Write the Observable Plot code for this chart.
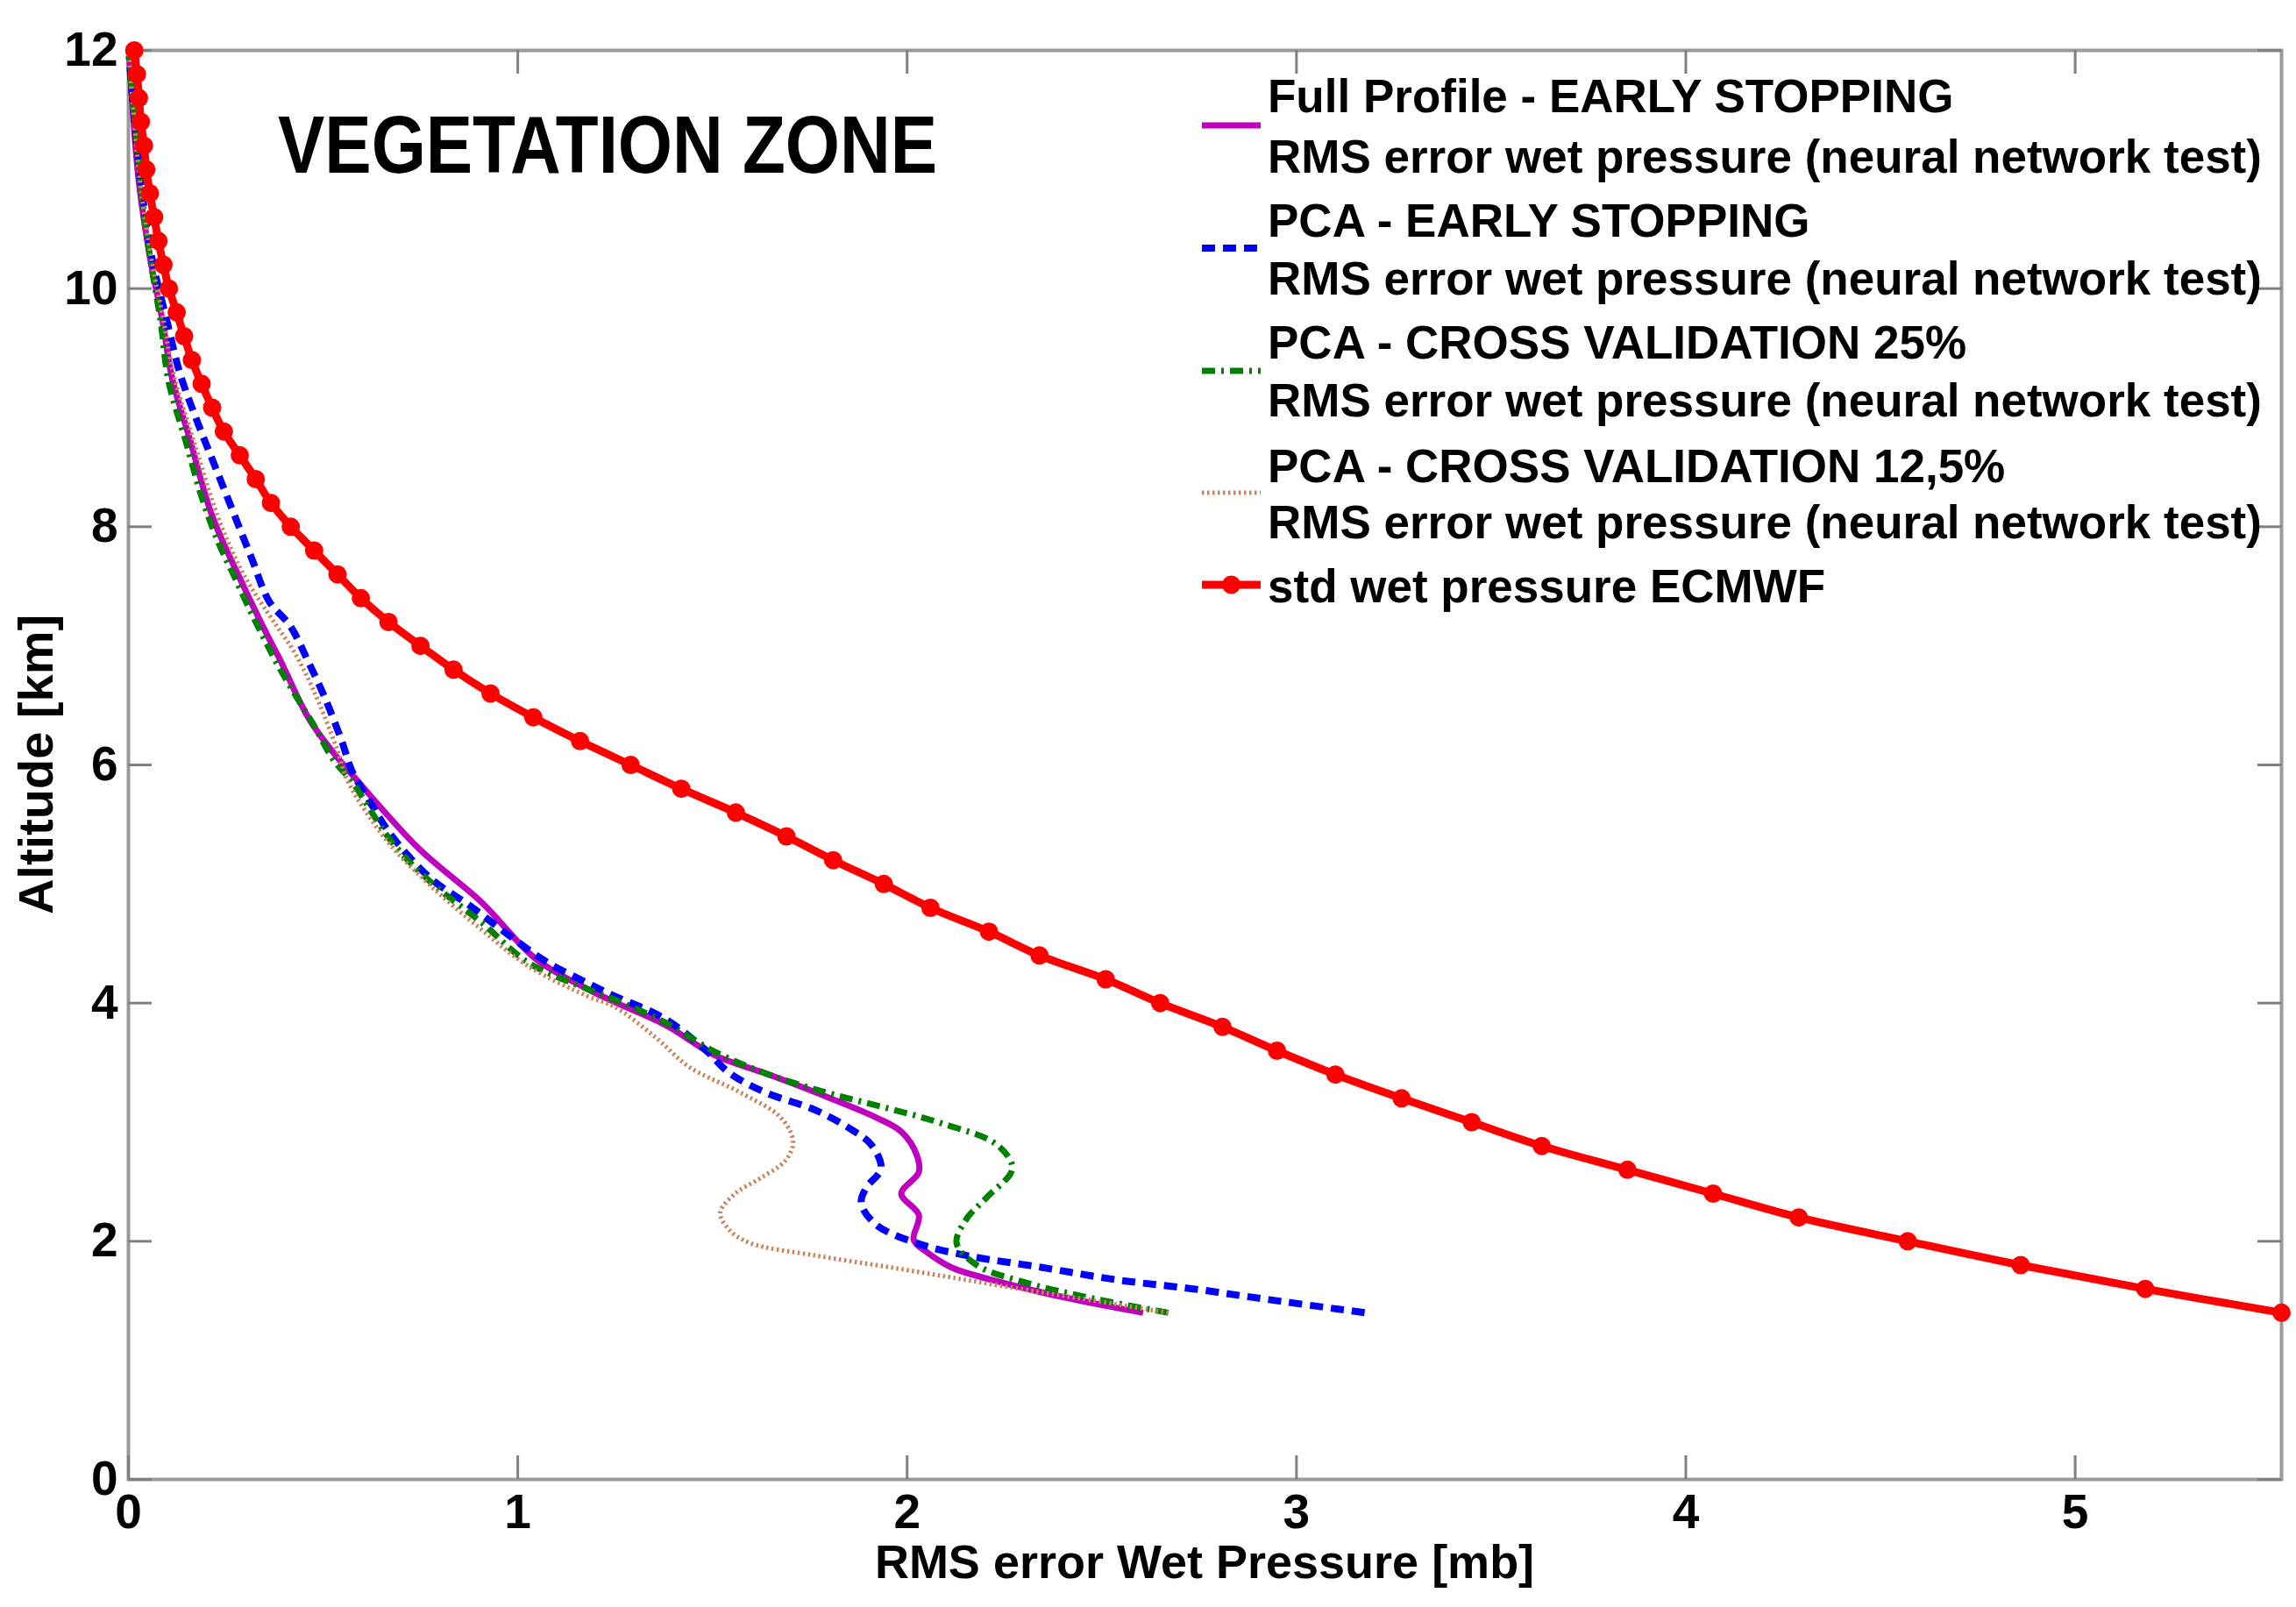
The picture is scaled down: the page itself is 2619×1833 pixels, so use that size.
<!DOCTYPE html>
<html>
<head>
<meta charset="utf-8">
<script src="https://cdn.jsdelivr.net/npm/d3@7"></script>
<script src="https://cdn.jsdelivr.net/npm/@observablehq/plot@0.6"></script>
<style>
  html, body { margin: 0; padding: 0; background: #ffffff; overflow: hidden; }
  #chart svg { display: block; }
</style>
</head>
<body>
<div id="chart"></div>
<script>
// ---------------- data ----------------
const xTicks = [0, 1, 2, 3, 4, 5];
const yTicks = [0, 2, 4, 6, 8, 10, 12];

const seriesNames = [
  "Full Profile - EARLY STOPPING",
  "PCA - EARLY STOPPING",
  "PCA - CROSS VALIDATION 25%",
  "PCA - CROSS VALIDATION 12,5%",
  "std wet pressure ECMWF"
];
const legendSubtitle = "RMS error wet pressure (neural network test)";
const titleText = "VEGETATION ZONE";
const xLabel = "RMS error Wet Pressure [mb]";
const yLabel = "Altitude [km]";

// Full Profile - EARLY STOPPING (magenta, solid)
const altFull = [1.40,1.48,1.57,1.675,1.78,1.91,2.01,2.22,2.40,2.58,2.73,2.92,3.04,3.25,3.41,3.56,3.82,4.01,4.12,4.37,4.85,5.30,5.92,6.04,6.38,6.88,7.12,7.61,8.10,8.72,9.25,9.74,10.23,10.89,11.64,11.95];
const rmsFull = [2.606,2.477,2.347,2.218,2.114,2.05,2.017,2.03,1.985,2.03,2.024,1.985,1.92,1.765,1.636,1.507,1.377,1.248,1.178,1.047,0.906,0.745,0.574,0.542,0.465,0.39,0.352,0.28,0.214,0.159,0.112,0.087,0.057,0.027,0.008,0.002];

// PCA - EARLY STOPPING (blue, dashed)
const altPcaES = [1.40,1.51,1.60,1.675,1.78,1.88,1.985,2.14,2.32,2.45,2.61,2.81,2.94,3.10,3.25,3.41,3.61,3.87,4.06,4.17,4.34,4.57,4.82,5.05,5.41,5.67,5.95,6.20,6.56,6.88,7.17,7.37,7.73,8.10,8.47,8.84,9.28,9.74,10.23,10.89,11.54,11.95];
const rmsPcaES = [3.175,2.929,2.735,2.541,2.347,2.153,2.024,1.92,1.882,1.895,1.933,1.908,1.856,1.765,1.636,1.545,1.481,1.377,1.248,1.178,1.077,0.977,0.876,0.775,0.675,0.624,0.574,0.548,0.505,0.46,0.415,0.362,0.317,0.272,0.227,0.182,0.133,0.098,0.062,0.032,0.012,0.002];

// PCA - CROSS VALIDATION 25% (green, dash-dot)
const altPcaCV25 = [1.40,1.52,1.65,1.80,1.985,2.19,2.37,2.61,2.81,2.99,3.12,3.25,3.41,3.59,3.84,4.03,4.12,4.34,4.68,5.02,5.36,5.86,6.04,6.34,6.58,6.83,7.07,7.32,7.61,7.86,8.23,8.72,9.22,9.74,10.23,10.72,11.22,11.71,11.95];
const rmsPcaCV25 = [2.671,2.477,2.308,2.179,2.127,2.153,2.205,2.27,2.231,2.089,1.946,1.791,1.636,1.507,1.377,1.248,1.178,1.027,0.906,0.775,0.675,0.574,0.527,0.475,0.43,0.385,0.347,0.309,0.268,0.232,0.19,0.147,0.103,0.082,0.057,0.037,0.022,0.007,0.002];

// PCA - CROSS VALIDATION 12,5% (brown, dotted)
const altPcaCV125 = [1.40,1.47,1.57,1.675,1.78,1.88,1.985,2.09,2.24,2.40,2.53,2.68,2.84,3.04,3.25,3.46,3.72,3.97,4.06,4.31,4.62,4.99,5.36,5.86,6.14,6.63,6.97,7.17,7.61,8.10,8.72,9.28,9.74,10.23,10.89,11.6,11.95];
const rmsPcaCV125 = [2.671,2.541,2.347,2.153,1.959,1.765,1.597,1.545,1.52,1.558,1.623,1.688,1.707,1.675,1.571,1.442,1.351,1.248,1.178,1.027,0.906,0.775,0.665,0.564,0.535,0.475,0.422,0.38,0.294,0.228,0.168,0.116,0.09,0.06,0.03,0.01,0.002];

// std wet pressure ECMWF (red, solid with markers)
const altStd = [1.4,1.6,1.8,2.0,2.2,2.4,2.6,2.8,3.0,3.2,3.4,3.6,3.8,4.0,4.2,4.4,4.6,4.8,5.0,5.2,5.4,5.6,5.8,6.0,6.2,6.4,6.6,6.8,7.0,7.2,7.4,7.6,7.8,8.0,8.2,8.4,8.6,8.8,9.0,9.2,9.4,9.6,9.8,10.0,10.2,10.4,10.6,10.8,11.0,11.2,11.4,11.6,11.8,12.0];
const rmsStd = [5.53,5.18,4.86,4.57,4.29,4.07,3.85,3.63,3.45,3.27,3.10,2.95,2.81,2.65,2.51,2.34,2.21,2.06,1.94,1.81,1.69,1.56,1.42,1.29,1.16,1.04,0.93,0.835,0.75,0.668,0.597,0.537,0.477,0.417,0.366,0.327,0.286,0.245,0.215,0.188,0.163,0.143,0.124,0.104,0.09,0.077,0.066,0.055,0.046,0.04,0.032,0.027,0.022,0.015];

// ---------------- build tables ----------------
const toRows = (alts, rms) => alts.map((a, i) => ({alt: a, rms: rms[i]}));
const full = toRows(altFull, rmsFull);
const pcaES = toRows(altPcaES, rmsPcaES);
const pcaCV25 = toRows(altPcaCV25, rmsPcaCV25);
const pcaCV125 = toRows(altPcaCV125, rmsPcaCV125);
const stdRows = toRows(altStd, rmsStd);

// ---------------- styles ----------------
const styles = [
  {color: "#bf00bf", width: 7, dash: null},
  {color: "#0000ff", width: 8, dash: "15,9"},
  {color: "#008000", width: 7, dash: "15,7,3,7"},
  {color: "#c9845c", width: 5, dash: "2.5,3.5"},
  {color: "#ff0000", width: 9, dash: null}
];

const W = 2619, H = 1833;
const mL = 146, mR = 17, mT = 57, mB = 146;
const innerH = H - mT - mB;
const innerW = W - mL - mR;
const FONT = "'Liberation Sans', Arial, Helvetica, sans-serif";
const tickColor = "#808080";
const tickLen = 27;

const lineOpts = (s) => ({
  x: "rms", y: "alt", stroke: s.color, strokeWidth: s.width,
  strokeDasharray: s.dash || undefined, strokeLinecap: "butt", strokeLinejoin: "round",
  curve: "catmull-rom"
});

const svg = Plot.plot({
  width: W, height: H,
  marginLeft: mL, marginRight: mR, marginTop: mT, marginBottom: mB,
  style: {fontFamily: FONT, fontSize: "54px", color: "#000", background: "#fff"},
  x: {domain: [0, 5.53]},
  y: {domain: [0, 12]},
  marks: [
    Plot.frame({stroke: "#9a9a9a", strokeWidth: 4}),
    // inward ticks: bottom, top, left, right
    Plot.ruleX(xTicks, {x: d => d, stroke: tickColor, strokeWidth: 3, insetTop: innerH - tickLen}),
    Plot.ruleX(xTicks, {x: d => d, stroke: tickColor, strokeWidth: 3, insetBottom: innerH - tickLen}),
    Plot.ruleY(yTicks, {y: d => d, stroke: tickColor, strokeWidth: 3, insetRight: innerW - tickLen}),
    Plot.ruleY(yTicks, {y: d => d, stroke: tickColor, strokeWidth: 3, insetLeft: innerW - tickLen}),
    Plot.axisX({ticks: xTicks, tickSize: 0, tickPadding: 16, label: null, fontSize: 55, fontWeight: "bold", tickFormat: d => String(d)}),
    Plot.axisY({ticks: yTicks, tickSize: 0, tickPadding: 12, label: null, fontSize: 55, fontWeight: "bold", tickFormat: d => String(d)}),
    Plot.line(full, lineOpts(styles[0])),
    Plot.line(pcaES, lineOpts(styles[1])),
    Plot.line(pcaCV25, lineOpts(styles[2])),
    Plot.line(pcaCV125, lineOpts(styles[3])),
    Plot.line(stdRows, lineOpts(styles[4])),
    Plot.dot(stdRows, {x: "rms", y: "alt", r: 10.5, fill: styles[4].color, stroke: "none"})
  ]
});
document.getElementById("chart").appendChild(svg);

// ---------------- annotations (title, axis labels, legend) ----------------
const root = d3.select(svg);
const g = root.append("g").attr("font-family", FONT).attr("fill", "#000").attr("text-anchor", "start");

g.append("text")
  .attr("x", 317).attr("y", 197)
  .attr("text-anchor", "start")
  .attr("font-size", 92).attr("font-weight", "bold")
  .attr("textLength", 752).attr("lengthAdjust", "spacingAndGlyphs")
  .text(titleText);

g.append("text")
  .attr("x", mL + innerW / 2).attr("y", 1800)
  .attr("text-anchor", "middle")
  .attr("font-size", 54).attr("font-weight", "bold")
  .text(xLabel);

g.append("text")
  .attr("transform", `translate(60, ${mT + innerH / 2}) rotate(-90)`)
  .attr("text-anchor", "middle")
  .attr("font-size", 56).attr("font-weight", "bold")
  .text(yLabel);

// legend
const legX0 = 1371, legX1 = 1438, legTextX = 1446;
const baselines = [[128, 197], [269.5, 336], [408.5, 475], [549.6, 614], [686.5]];
const sampleY = [143, 283, 423, 562, 667];
const lg = g.append("g");
seriesNames.forEach((name, i) => {
  const s = styles[i];
  const ln = lg.append("line")
    .attr("x1", legX0).attr("x2", legX1)
    .attr("y1", sampleY[i]).attr("y2", sampleY[i])
    .attr("stroke", s.color).attr("stroke-width", s.width);
  if (s.dash) ln.attr("stroke-dasharray", s.dash);
  if (i === 4) {
    lg.append("circle").attr("cx", (legX0 + legX1) / 2).attr("cy", sampleY[i])
      .attr("r", 10.5).attr("fill", s.color);
  }
  lg.append("text").attr("x", legTextX).attr("y", baselines[i][0])
    .attr("text-anchor", "start")
    .attr("font-size", 53).attr("font-weight", "bold").text(name);
  if (i < 4) {
    lg.append("text").attr("x", legTextX).attr("y", baselines[i][1])
      .attr("text-anchor", "start")
      .attr("font-size", 53).attr("font-weight", "bold").text(legendSubtitle);
  }
});
</script>
</body>
</html>
